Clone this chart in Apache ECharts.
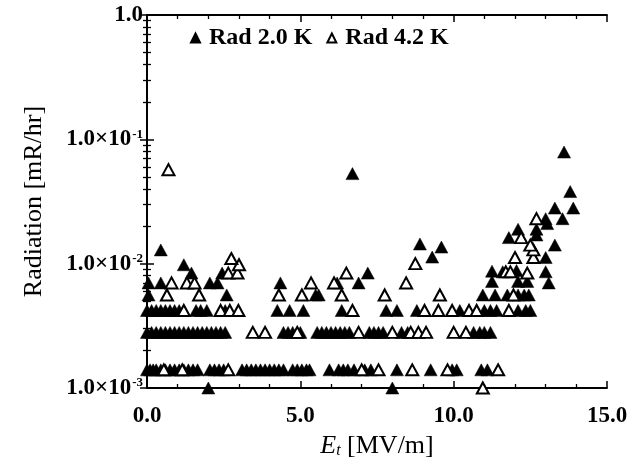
<!DOCTYPE html>
<html><head><meta charset="utf-8">
<script src="https://cdn.jsdelivr.net/npm/echarts@6/dist/echarts.min.js"></script>
<style>html,body{margin:0;padding:0;background:#fff}#c{width:635px;height:464px}</style>
</head><body><div id="c"></div>
<script>
// ---- data: [E_t (MV/m), radiation (mR/hr)] ----
const seriesNames = ['Rad 2.0 K', 'Rad 4.2 K'];
const xTicks = [0, 5, 10, 15];
const yTicks = [0.001, 0.01, 0.1, 1];

const rad20 = [
  // ~1.4e-3
  [0.0,1.4e-3],[0.1,1.4e-3],[0.2,1.4e-3],[0.3,1.4e-3],[0.45,1.4e-3],[0.6,1.4e-3],[0.75,1.4e-3],[0.9,1.4e-3],
  [1.05,1.4e-3],[1.2,1.4e-3],[1.35,1.4e-3],[1.5,1.4e-3],[1.65,1.4e-3],[2.05,1.4e-3],[2.2,1.4e-3],[2.35,1.4e-3],
  [2.5,1.4e-3],[3.1,1.4e-3],[3.25,1.4e-3],[3.4,1.4e-3],[3.55,1.4e-3],[3.7,1.4e-3],[3.85,1.4e-3],[4.0,1.4e-3],
  [4.15,1.4e-3],[4.3,1.4e-3],[4.45,1.4e-3],[4.75,1.4e-3],[4.9,1.4e-3],[5.05,1.4e-3],[5.2,1.4e-3],[5.3,1.4e-3],
  [5.95,1.4e-3],[6.25,1.4e-3],[6.4,1.4e-3],[6.55,1.4e-3],[6.75,1.4e-3],[7.1,1.4e-3],[7.3,1.4e-3],[8.15,1.4e-3],
  [9.25,1.4e-3],[9.95,1.4e-3],[10.1,1.4e-3],[10.9,1.4e-3],[11.1,1.4e-3],
  // ~2.8e-3
  [0.0,2.8e-3],[0.15,2.8e-3],[0.3,2.8e-3],[0.45,2.8e-3],[0.6,2.8e-3],[0.75,2.8e-3],[0.9,2.8e-3],[1.05,2.8e-3],
  [1.2,2.8e-3],[1.35,2.8e-3],[1.5,2.8e-3],[1.65,2.8e-3],[1.8,2.8e-3],[1.95,2.8e-3],[2.1,2.8e-3],[2.25,2.8e-3],
  [2.4,2.8e-3],[2.55,2.8e-3],[4.45,2.8e-3],[4.6,2.8e-3],[4.75,2.8e-3],[5.0,2.8e-3],[5.55,2.8e-3],[5.7,2.8e-3],
  [5.85,2.8e-3],[6.0,2.8e-3],[6.15,2.8e-3],[6.3,2.8e-3],[6.45,2.8e-3],[6.6,2.8e-3],[7.25,2.8e-3],[7.4,2.8e-3],
  [7.55,2.8e-3],[7.7,2.8e-3],[8.3,2.8e-3],[8.5,2.8e-3],[10.65,2.8e-3],[10.85,2.8e-3],[11.0,2.8e-3],[11.2,2.8e-3],
  // ~4.2e-3
  [0.0,4.2e-3],[0.15,4.2e-3],[0.3,4.2e-3],[0.45,4.2e-3],[0.6,4.2e-3],[0.75,4.2e-3],[0.9,4.2e-3],[1.05,4.2e-3],
  [1.6,4.2e-3],[1.75,4.2e-3],[1.95,4.2e-3],[2.55,4.2e-3],[4.25,4.2e-3],[4.65,4.2e-3],[5.1,4.2e-3],[6.35,4.2e-3],
  [7.8,4.2e-3],[8.15,4.2e-3],[8.8,4.2e-3],[10.2,4.2e-3],[11.0,4.2e-3],[11.2,4.2e-3],[11.4,4.2e-3],[12.1,4.2e-3],
  [12.35,4.2e-3],[12.5,4.2e-3],
  // ~5.6e-3
  [0.05,5.6e-3],[2.6,5.6e-3],[5.5,5.6e-3],[5.6,5.6e-3],[10.95,5.6e-3],[11.35,5.6e-3],[11.75,5.6e-3],[12.1,5.6e-3],
  [12.3,5.6e-3],[12.45,5.6e-3],
  // ~7.0e-3
  [0.05,7.0e-3],[0.45,7.0e-3],[2.05,7.0e-3],[2.3,7.0e-3],[4.35,7.0e-3],[6.2,7.0e-3],[6.9,7.0e-3],[11.25,7.2e-3],
  [12.1,7.2e-3],[12.4,7.2e-3],[13.1,7.0e-3],
  // ~8.4e-3 and above
  [1.45,8.4e-3],[2.45,8.4e-3],[7.2,8.4e-3],[11.25,8.7e-3],[11.6,8.6e-3],[12.05,8.8e-3],[13.0,8.6e-3],
  [1.2,9.8e-3],[9.3,1.13e-2],[0.45,1.29e-2],[8.9,1.44e-2],[9.6,1.36e-2],[6.7,5.3e-2],
  [11.8,1.62e-2],[12.1,1.89e-2],[12.7,1.89e-2],[13.0,2.3e-2],[13.05,2.1e-2],[13.3,2.8e-2],[13.55,2.3e-2],
  [13.6,7.9e-2],[13.8,3.8e-2],[13.9,2.8e-2],[13.3,1.41e-2],[13.0,1.12e-2],[12.7,1.7e-2],
  // on the bottom axis
  [2.0,1.0e-3],[8.0,1.0e-3]
];

const rad42 = [
  [0.55,1.4e-3],[1.15,1.4e-3],[2.65,1.4e-3],[7.0,1.4e-3],[7.55,1.4e-3],[8.65,1.4e-3],[9.8,1.4e-3],[11.45,1.4e-3],
  [3.45,2.8e-3],[3.85,2.8e-3],[4.9,2.8e-3],[6.9,2.8e-3],[8.0,2.8e-3],[8.6,2.8e-3],[8.85,2.8e-3],[9.1,2.8e-3],
  [10.0,2.8e-3],[10.4,2.8e-3],
  [1.2,4.2e-3],[2.4,4.2e-3],[2.7,4.2e-3],[2.98,4.2e-3],[6.7,4.2e-3],[9.05,4.2e-3],[9.5,4.2e-3],[9.95,4.2e-3],
  [10.5,4.2e-3],[10.75,4.2e-3],[11.8,4.2e-3],
  [0.65,5.6e-3],[1.7,5.6e-3],[4.3,5.6e-3],[5.05,5.6e-3],[6.35,5.6e-3],[7.75,5.6e-3],[9.55,5.6e-3],[11.95,5.6e-3],
  [0.8,7.0e-3],[1.3,7.0e-3],[1.55,7.0e-3],[5.35,7.0e-3],[6.1,7.0e-3],[8.45,7.0e-3],
  [2.65,8.4e-3],[2.95,8.4e-3],[6.5,8.4e-3],[11.7,8.6e-3],[11.85,8.6e-3],[12.4,8.4e-3],
  [3.0,9.8e-3],[8.75,1.0e-2],[2.75,1.1e-2],[12.0,1.12e-2],[12.6,1.12e-2],[12.6,1.29e-2],[12.5,1.41e-2],
  [12.2,1.62e-2],[12.7,2.3e-2],[0.7,5.7e-2],
  [10.95,1.0e-3]
];

const serif = '"Liberation Serif","DejaVu Serif",serif';
const chart = echarts.init(document.getElementById('c'), null, {renderer: 'canvas'});
const gridCfg = {left: 147, right: 28, top: 15, bottom: 76};
const ticksCfg = {show: true, inside: true, length: 7, lineStyle: {color: '#000', width: 1.5}};
const minorCfg = {show: true, length: 4, lineStyle: {color: '#000', width: 1.3}};
const lineCfg = {show: true, lineStyle: {color: '#000', width: 1.8}};

function yLabel(v) {
  const e = Math.round(Math.log10(v));
  if (e === 0) return '{b|1.0}';
  return '{b|1.0×10}{s|' + e + '}';
}

chart.setOption({
  animation: false,
  backgroundColor: '#fff',
  grid: gridCfg,
  legend: {
    left: 185, top: 21, itemWidth: 9, itemHeight: 9, itemGap: 14,
    data: [{name: seriesNames[0], icon: 'triangle'}, {name: seriesNames[1], icon: 'triangle'}],
    textStyle: {fontFamily: serif, fontSize: 24, fontWeight: 'bold', color: '#000', padding: [0, 0, 0, 4]}
  },
  xAxis: [{
    type: 'value', min: xTicks[0], max: xTicks[xTicks.length - 1], interval: 5,
    axisLine: lineCfg, axisTick: ticksCfg,
    minorTick: Object.assign({splitNumber: 5}, minorCfg),
    splitLine: {show: false},
    axisLabel: {margin: 17, fontFamily: serif, fontSize: 23, fontWeight: 'bold', color: '#000',
      formatter: v => v.toFixed(1)},
    name: '{i|E}{sub|t}{n| [MV/m]}', nameLocation: 'middle', nameGap: 44,
    nameTextStyle: {
      rich: {
        i: {fontFamily: serif, fontSize: 26, fontStyle: 'italic', color: '#000'},
        sub: {fontFamily: serif, fontSize: 16, fontStyle: 'italic', color: '#000', padding: [10, 0, 0, 0]},
        n: {fontFamily: serif, fontSize: 26, color: '#000'}
      }
    }
  }, {
    type: 'value', position: 'top', min: xTicks[0], max: xTicks[xTicks.length - 1], interval: 5,
    axisLine: lineCfg, axisTick: ticksCfg,
    minorTick: Object.assign({splitNumber: 5}, minorCfg),
    splitLine: {show: false}, axisLabel: {show: false}
  }],
  yAxis: [{
    type: 'log', logBase: 10, min: yTicks[0], max: yTicks[yTicks.length - 1],
    axisLine: lineCfg, axisTick: ticksCfg,
    minorTick: Object.assign({splitNumber: 9}, minorCfg),
    splitLine: {show: false},
    axisLabel: {margin: 4, formatter: yLabel,
      rich: {
        b: {fontFamily: serif, fontSize: 23, fontWeight: 'bold', color: '#000'},
        s: {fontFamily: serif, fontSize: 13, fontWeight: 'bold', color: '#000', verticalAlign: 'top', padding: [0, 0, 8, 1]}
      }},
    name: 'Radiation [mR/hr]', nameLocation: 'middle', nameGap: 100, nameRotate: 90,
    nameTextStyle: {fontFamily: serif, fontSize: 26, color: '#000'}
  }, {
    type: 'log', logBase: 10, position: 'right', min: yTicks[0], max: yTicks[yTicks.length - 1],
    axisLine: lineCfg, axisTick: ticksCfg,
    minorTick: Object.assign({splitNumber: 9}, minorCfg),
    splitLine: {show: false}, axisLabel: {show: false}
  }],
  series: [{
    name: seriesNames[0], type: 'scatter', xAxisIndex: 0, yAxisIndex: 0,
    symbol: 'triangle', symbolSize: [13, 12],
    itemStyle: {color: '#000', borderColor: '#000', borderWidth: 0.5, opacity: 1},
    data: rad20
  }, {
    name: seriesNames[1], type: 'scatter', xAxisIndex: 0, yAxisIndex: 0,
    symbol: 'triangle', symbolSize: [12, 11],
    itemStyle: {color: '#fff', borderColor: '#000', borderWidth: 2, opacity: 1},
    data: rad42
  }]
});
</script></body></html>
